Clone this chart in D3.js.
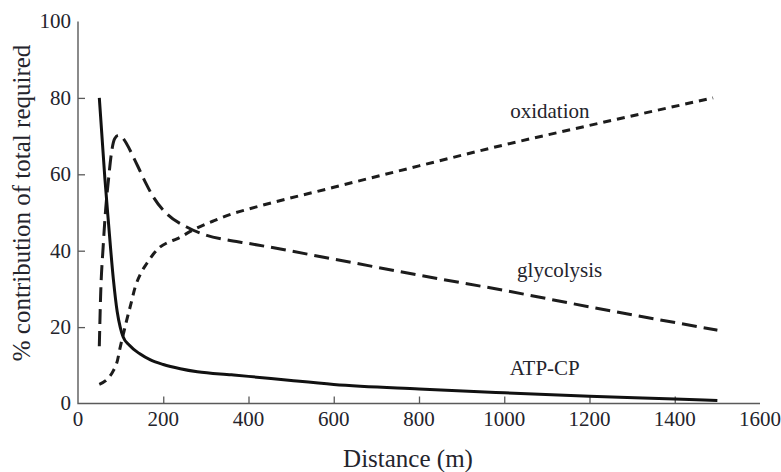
<!DOCTYPE html>
<html>
<head>
<meta charset="utf-8">
<script src="https://cdn.jsdelivr.net/npm/d3@7"></script>
<style>
  body { margin: 0; background: #fff; }
</style>
</head>
<body>
<div id="chart-area"></div>
<script>
const W = 781, H = 472;
const margin = {top: 21.5, right: 21, bottom: 68.5, left: 78};
const serif = "'Liberation Serif', 'Times New Roman', serif";

// ---- data
const xTicks = [0, 200, 400, 600, 800, 1000, 1200, 1400, 1600];
const yTicks = [0, 20, 40, 60, 80, 100];

const atpDist = [50, 63, 71, 83, 92, 99, 106, 120, 145, 170, 200, 240, 280, 360, 400, 500, 600, 800, 1000, 1200, 1400, 1500];
const atpPct  = [80, 59, 48, 32.5, 24, 20, 17.4, 15.3, 13, 11.4, 10.2, 9.1, 8.3, 7.5, 7.1, 6.0, 5.0, 3.8, 2.8, 1.9, 1.2, 0.8];

const glyDist = [50, 53, 59, 65, 71, 79, 86, 95, 105, 114, 130, 145, 160, 177, 208, 255, 302, 350, 400, 600, 800, 1000, 1200, 1500];
const glyPct  = [15, 28, 41, 51, 58, 66, 69.3, 70.2, 69.5, 68, 64.5, 61, 57.5, 54, 49.7, 46.2, 44, 42.8, 41.9, 37.8, 33.6, 29.6, 25.3, 19.2];

const oxDist = [50, 70, 83, 92, 99, 106, 114, 124, 134, 147, 161, 176, 192, 210, 232, 271, 318, 360, 400, 600, 800, 1000, 1200, 1490];
const oxPct  = [5, 6.5, 8.6, 11, 14.7, 18, 21.7, 26, 30.4, 34, 36.6, 39, 40.9, 42.1, 43.1, 45.5, 47.8, 49.6, 50.9, 56.6, 62.2, 67.7, 72.8, 80];

const seriesLabels = [
  {text: "oxidation", x: 1107, y: 74.7},
  {text: "glycolysis", x: 1130, y: 33.2},
  {text: "ATP-CP", x: 1095, y: 7.5}
];

const zip = (a, b) => a.map((d, i) => [d, b[i]]);

const svg = d3.select("#chart-area")
  .append("svg")
    .attr("width", W)
    .attr("height", H)
    .style("display", "block");

const x = d3.scaleLinear().domain([0, 1600]).range([margin.left, W - margin.right]);
const y = d3.scaleLinear().domain([0, 100]).range([H - margin.bottom, margin.top]);

const axisColor = "#5a5a5a";
const textColor = "#24242c";

//--------------------------- AXES (ticks point inwards)
const xAxis = svg.append("g")
  .attr("transform", `translate(0, ${y(0)})`)
  .call(d3.axisTop(x).tickValues(xTicks.slice(1, -1)).tickSize(7).tickFormat(""));

const yAxis = svg.append("g")
  .attr("transform", `translate(${x(0)}, 0)`)
  .call(d3.axisRight(y).tickValues(yTicks.slice(1, -1)).tickSize(7).tickFormat(""));

[xAxis, yAxis].forEach(a => {
  a.select(".domain").remove();
  a.selectAll(".tick line").attr("stroke", axisColor).attr("stroke-width", 1.3);
});

svg.append("path")
  .attr("d", `M${x(0)},${y(100)}V${y(0)}H${x(1600)}`)
  .attr("fill", "none")
  .attr("stroke", axisColor)
  .attr("stroke-width", 1.4);

// tick labels
svg.append("g").selectAll("text")
  .data(xTicks).join("text")
    .attr("x", d => x(d))
    .attr("y", y(0) + 22)
    .attr("text-anchor", "middle")
    .attr("font-family", serif)
    .attr("font-size", 21)
    .attr("fill", textColor)
    .text(d => d);

svg.append("g").selectAll("text")
  .data(yTicks).join("text")
    .attr("x", x(0) - 7)
    .attr("y", d => y(d))
    .attr("dy", "0.33em")
    .attr("text-anchor", "end")
    .attr("font-family", serif)
    .attr("font-size", 21)
    .attr("fill", textColor)
    .text(d => d);

// axis titles
svg.append("text")
  .attr("x", (x(0) + x(1600)) / 2 - 11)
  .attr("y", 467)
  .attr("text-anchor", "middle")
  .attr("font-family", serif)
  .attr("font-size", 25)
  .attr("fill", textColor)
  .text("Distance (m)");

svg.append("text")
  .attr("transform", `translate(30, ${y(52.5)}) rotate(-90)`)
  .attr("text-anchor", "middle")
  .attr("font-family", serif)
  .attr("font-size", 25)
  .attr("fill", textColor)
  .text("% contribution of total required");

//--------------------------- LINES
const line = d3.line()
  .x(d => x(d[0]))
  .y(d => y(d[1]))
  .curve(d3.curveMonotoneX);

svg.append("path")
  .datum(zip(oxDist, oxPct))
  .attr("d", line)
  .attr("fill", "none")
  .attr("stroke", "#1c1c1c")
  .attr("stroke-width", 3)
  .attr("stroke-dasharray", "8,6");

svg.append("path")
  .datum(zip(glyDist, glyPct))
  .attr("d", line)
  .attr("fill", "none")
  .attr("stroke", "#1c1c1c")
  .attr("stroke-width", 3)
  .attr("stroke-dasharray", "15,7");

svg.append("path")
  .datum(zip(atpDist, atpPct))
  .attr("d", line)
  .attr("fill", "none")
  .attr("stroke", "#111")
  .attr("stroke-width", 3);

// series labels
svg.append("g").selectAll("text")
  .data(seriesLabels).join("text")
    .attr("x", d => x(d.x))
    .attr("y", d => y(d.y))
    .attr("text-anchor", "middle")
    .attr("font-family", serif)
    .attr("font-size", 21)
    .attr("fill", textColor)
    .text(d => d.text);
</script>
</body>
</html>
